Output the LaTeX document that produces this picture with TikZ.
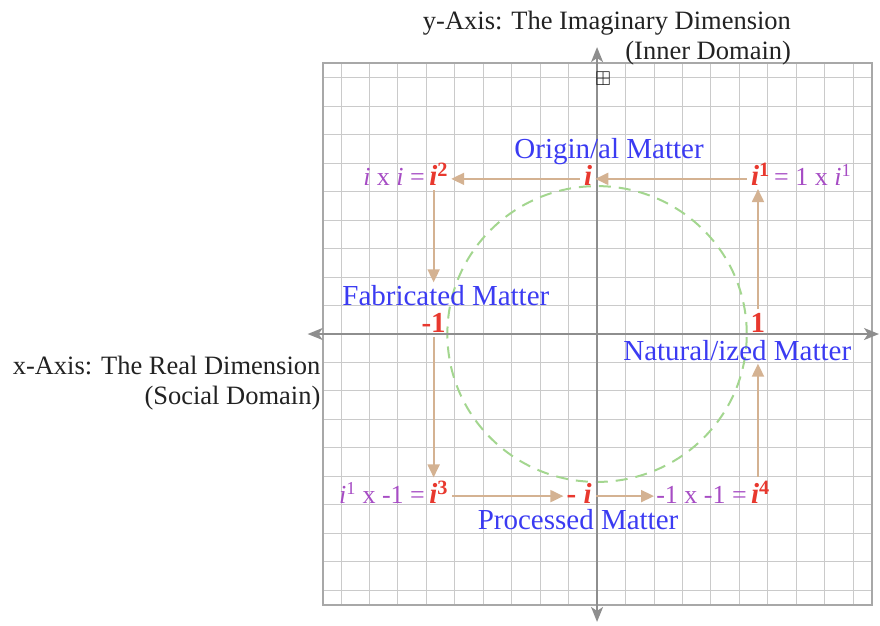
\documentclass[tikz,border=0pt]{standalone}
\usepackage{amssymb}
\usepackage{fontspec}
\setmainfont{Liberation Serif}
\usetikzlibrary{arrows.meta, positioning}
\definecolor{cgrid}{HTML}{CACACA}
\definecolor{cframe}{HTML}{A8A8A8}
\definecolor{caxis}{HTML}{8E8E8E}
\definecolor{ctan}{HTML}{D4B292}
\definecolor{cgreen}{HTML}{A3D68F}
\definecolor{cred}{HTML}{E8382E}
\definecolor{cpurple}{HTML}{A64CC4}
\definecolor{cblue}{HTML}{3B3BF2}
\definecolor{cink}{HTML}{222222}

\begin{document}
\begin{tikzpicture}[
  x=24.95pt, y=24.65pt,
  title/.style={text=cink, align=right, inner sep=0pt, font=\fontsize{26.5}{30}\selectfont},
  matter/.style={text=cblue, anchor=base, inner sep=1pt, font=\fontsize{29}{30}\selectfont},
  pow/.style={text=cred, anchor=base, inner sep=1pt, font=\fontsize{29}{30}\selectfont\bfseries},
  prod/.style={text=cpurple, inner sep=0pt, font=\fontsize{26}{28}\selectfont},
  flow/.style={-{Triangle[length=13pt, width=12pt]}, line width=1.9pt, draw=ctan,
               shorten >=2pt, shorten <=3pt},
  axis/.style={{Stealth[length=15pt, width=12pt, inset=4pt]}-{Stealth[length=15pt, width=12pt, inset=4pt]},
               line width=1.6pt, draw=caxis}
]
\useasboundingbox (-23.93,-11.805) rectangle (11.34,13.55);
% grid paper, unit circle and axes
\draw[cgrid, line width=0.9pt] (-11,-11) grid (11,11);
\draw[cframe, line width=2pt] (-11,-11) rectangle (11,11);
\draw[cgreen, line width=2pt, dash pattern=on 12pt off 8pt] (0,0) ellipse (6 and 6);
\draw[axis] (-11.6,0) -- (11.3,0);
\draw[axis] (0,-11.68) -- (0,11.64);
\node[text=cink, inner sep=0pt, font=\fontsize{20}{20}\selectfont] (mark) at (0.24,10.34) {$\boxplus$};
\node[title, anchor=east] (ytitle) at (7.78,12.02) {y-Axis: The Imaginary Dimension\\(Inner Domain)};
\node[title, anchor=east] (xtitle) at (-11.08,-1.99) {x-Axis: The Real Dimension\\(Social Domain)};
% powers of i
\node[pow] (i)     at (-0.36,6.01)  {\textit{i}};
\node[pow] (itwo)  at (-6.35,6.01)  {\textit{i}\textsuperscript{2}};
\node[pow] (ione)  at (6.55,6.01)   {\textit{i}\textsuperscript{1}};
\node[pow] (one)   at (6.45,0.06)   {1};
\node[pow] (mone)  at (-6.55,0.06)  {-1};
\node[pow] (ithree) at (-6.35,-6.86) {\textit{i}\textsuperscript{3}};
\node[pow] (mi)    at (-0.72,-6.86) {- \textit{i}};
\node[pow] (ifour) at (6.55,-6.86)  {\textit{i}\textsuperscript{4}};
\node[prod, anchor=base east] (itwotxt)   at ([xshift=-3pt]itwo.base west)   {\textit{i} x \textit{i} =};
\node[prod, anchor=base west] (ionetxt)   at ([xshift=3pt]ione.base east)    {= 1 x \textit{i}\textsuperscript{1}};
\node[prod, anchor=base east] (ithreetxt) at ([xshift=-3pt]ithree.base west) {\textit{i}\textsuperscript{1} x -1 =};
\node[prod, anchor=base east] (ifourtxt)  at ([xshift=-3pt]ifour.base west)  {-1 x -1 =};
% kinds of matter
\node[matter] (orig) at (0.48,7.12)   {Origin/al Matter};
\node[matter] (fab)  at (-6.06,1.15)  {Fabricated Matter};
\node[matter] (nat)  at (5.62,-1.06)  {Natural/ized Matter};
\node[matter] (proc) at (-0.76,-7.95) {Processed Matter};
% the turn
\draw[flow] ([yshift=7pt]ione.base west) -- ([yshift=7pt]i.base east);
\draw[flow] ([yshift=7pt]i.base west) -- ([yshift=7pt]itwo.base east);
\draw[flow] (itwo.south -| mone) -- (fab.north -| mone);
\draw[flow] (mone.south) -- (ithree.north -| mone);
\draw[flow] ([yshift=7pt]ithree.base east) -- ([yshift=7pt]mi.base west);
\draw[flow] ([yshift=7pt]mi.base east) -- ([yshift=7pt]ifourtxt.base west);
\draw[flow] (ifour.north -| one) -- (nat.south -| one);
\draw[flow] (one.north) -- (ione.south -| one);
\end{tikzpicture}
\end{document}
